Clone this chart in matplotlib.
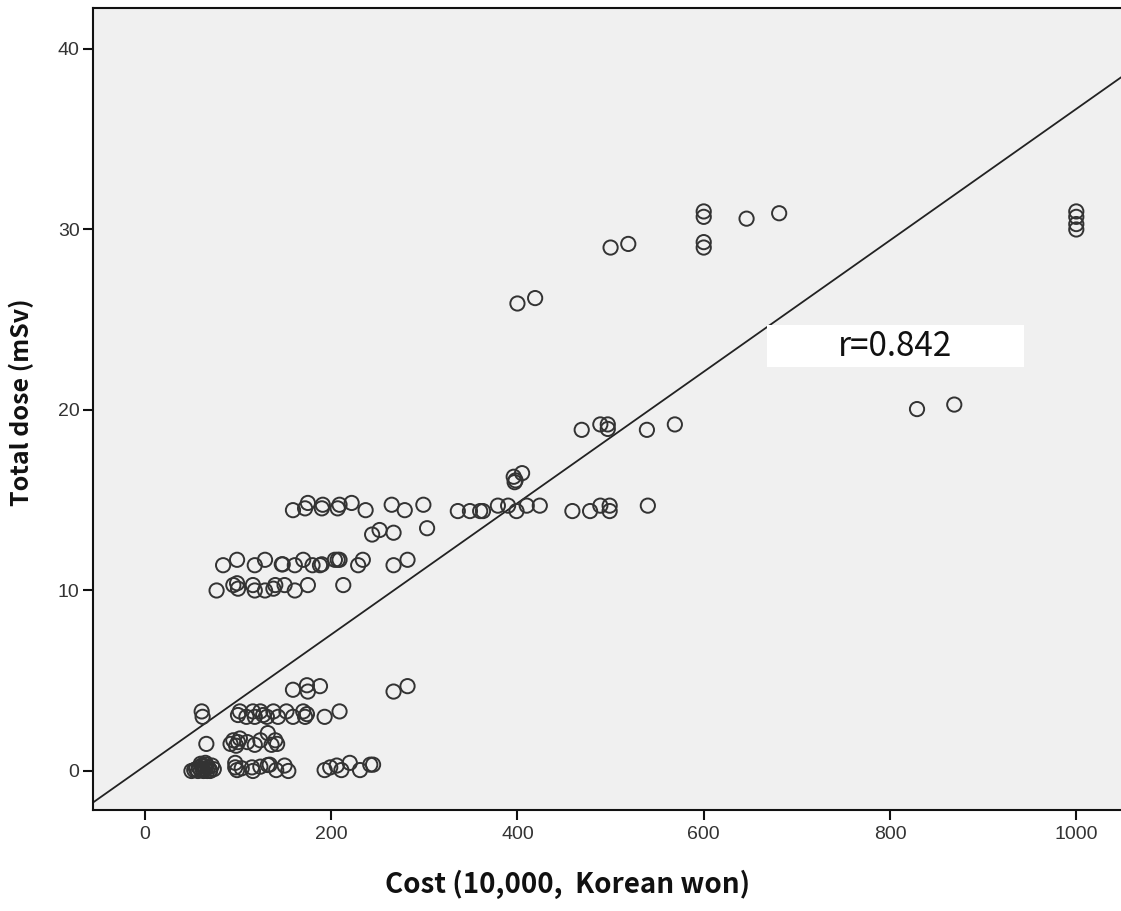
import numpy as np
import matplotlib
matplotlib.use("Agg")
import matplotlib.pyplot as plt
from matplotlib import font_manager
from matplotlib.patches import Rectangle

# ── Data ──────────────────────────────────────────────────────────────────────
cost = [
    # ~0 mSv cluster
    50, 53, 55, 57, 58, 60, 61, 62, 63, 64, 65, 66, 67, 68, 70, 72, 74, 60, 65, 70,
    97, 99, 97, 104, 115, 116, 124, 132, 134, 141, 150, 154,
    193, 199, 206, 211, 220, 231, 242, 245,
    # ~1.5 mSv
    66, 92, 95, 98, 100, 102, 110, 118, 124, 132, 136, 140, 142,
    # ~3 mSv
    61, 62, 100, 102, 109, 116, 118, 124, 127, 131, 138, 143, 152, 159, 170, 172, 174, 193, 209,
    # ~4.5 mSv
    159, 174, 175, 188, 267, 282,
    # ~10 mSv
    77, 95, 99, 100, 116, 118, 129, 138, 140, 150, 161, 175, 213,
    # ~11.5 mSv
    84, 99, 118, 129, 147, 148, 161, 170, 180, 188, 190, 204, 207, 209, 229, 234, 267, 282,
    # ~13 mSv
    244, 252, 267, 303,
    # ~14.5 mSv
    159, 172, 175, 190, 191, 207, 209, 222, 237, 265, 279, 299,
    336, 349, 360, 363, 379, 390, 399, 410, 424, 459, 478, 489, 499, 499, 540,
    # ~16 mSv
    396, 397, 398, 405,
    # ~19 mSv
    469, 489, 497, 497, 539, 569,
    # ~20 mSv
    829, 869,
    # ~26 mSv
    400, 419,
    # ~29-31 mSv
    500, 519, 600, 600, 600, 600, 646, 681, 1000, 1000, 1000, 1000,
]
dose = [
    0.0, 0.05, 0.1, 0.0, 0.2, 0.05, 0.3, 0.1, 0.0, 0.25, 0.1, 0.35, 0.0, 0.2, 0.05, 0.3, 0.1, 0.4, 0.45, 0.0,
    0.45, 0.05, 0.2, 0.15, 0.2, 0.0, 0.24, 0.33, 0.35, 0.05, 0.3, 0.0,
    0.05, 0.2, 0.3, 0.05, 0.45, 0.05, 0.35, 0.35,
    1.5, 1.5, 1.7, 1.4, 1.6, 1.8, 1.6, 1.45, 1.7, 2.1, 1.45, 1.7, 1.5,
    3.3, 3.0, 3.1, 3.3, 3.0, 3.3, 3.0, 3.3, 3.1, 3.0, 3.3, 3.0, 3.3, 3.0, 3.3, 3.0, 3.15, 3.0, 3.3,
    4.5, 4.75, 4.4, 4.7, 4.4, 4.7,
    10.0, 10.3, 10.4, 10.1, 10.3, 10.0, 10.0, 10.1, 10.3, 10.3, 10.0, 10.3, 10.3,
    11.4, 11.7, 11.4, 11.7, 11.45, 11.45, 11.4, 11.7, 11.4, 11.4, 11.45, 11.7, 11.7, 11.7, 11.4, 11.7, 11.4, 11.7,
    13.1, 13.35, 13.2, 13.45,
    14.45, 14.55, 14.85, 14.55, 14.75, 14.55, 14.75, 14.85, 14.45, 14.75, 14.45, 14.75,
    14.4, 14.4, 14.4, 14.4, 14.7, 14.7, 14.4, 14.7, 14.7, 14.4, 14.4, 14.7, 14.7, 14.4, 14.7,
    16.3, 16.0, 16.1, 16.5,
    18.9, 19.2, 19.2, 18.95, 18.9, 19.2,
    20.05, 20.3,
    25.9, 26.2,
    29.0, 29.2, 31.0, 30.7, 29.3, 29.0, 30.6, 30.9, 31.0, 30.7, 30.3, 30.0,
]

FIT_INTERCEPT = 0.28
FIT_SLOPE = 0.0364
R_TEXT = "r=0.842"

X_TICKS = [0, 200, 400, 600, 800, 1000]
Y_TICKS = [0, 10, 20, 30, 40]

# ── Fonts ─────────────────────────────────────────────────────────────────────
installed = {f.name for f in font_manager.fontManager.ttflist}
narrow = "Liberation Sans Narrow" if "Liberation Sans Narrow" in installed else "Liberation Sans"
label_font = ["Noto Sans CJK KR", "DejaVu Sans"]

# ── Figure ────────────────────────────────────────────────────────────────────
fig = plt.figure(figsize=(11.21, 9.11), dpi=100)
ax = fig.add_axes([0.0827, 0.1109, 0.9173, 0.8803])
ax.set_facecolor("#f0f0f0")

xs = np.linspace(-60, 1060, 2)
ax.plot(xs, FIT_INTERCEPT + FIT_SLOPE * xs, color="#222222", linewidth=1.3, zorder=2)

ax.scatter(cost, dose, s=105, facecolors="none", edgecolors="#333333",
           linewidths=1.4, zorder=3)

ax.set_xlim(-56, 1048)
ax.set_ylim(-2.16, 42.27)
ax.set_xticks(X_TICKS)
ax.set_yticks(Y_TICKS)

for side in ["left", "bottom", "top"]:
    ax.spines[side].set_color("#111111")
    ax.spines[side].set_linewidth(1.5)
ax.spines["right"].set_visible(False)

ax.tick_params(axis="both", direction="out", length=7.5, width=1.5, color="#111111")
ax.tick_params(axis="x", pad=4)
ax.tick_params(axis="y", pad=2)
for lbl in ax.get_xticklabels():
    lbl.set_fontfamily(narrow)
    lbl.set_fontsize(14)
    lbl.set_color("#333333")
for lbl in ax.get_yticklabels():
    lbl.set_fontfamily("Liberation Sans")
    lbl.set_fontsize(14)
    lbl.set_color("#333333")

ax.set_xlabel("Cost (10,000,  Korean won)", fontsize=20, fontweight="bold",
              family=label_font, color="#111111")
ax.xaxis.set_label_coords(0.462, -0.074)
ax.set_ylabel("Total dose (mSv)", fontsize=18, fontweight="bold",
              family=label_font, color="#111111")
ax.yaxis.set_label_coords(-0.057, 0.509)

# r annotation box
ax.add_patch(Rectangle((0.656, 0.552), 0.25, 0.053, transform=ax.transAxes,
                       facecolor="white", edgecolor="none", zorder=4))
ax.text(0.780, 0.578, R_TEXT, transform=ax.transAxes, ha="center", va="center",
        fontsize=24, family=label_font, color="#111111", zorder=5)

fig.savefig("out.png", dpi=100, facecolor="white")
